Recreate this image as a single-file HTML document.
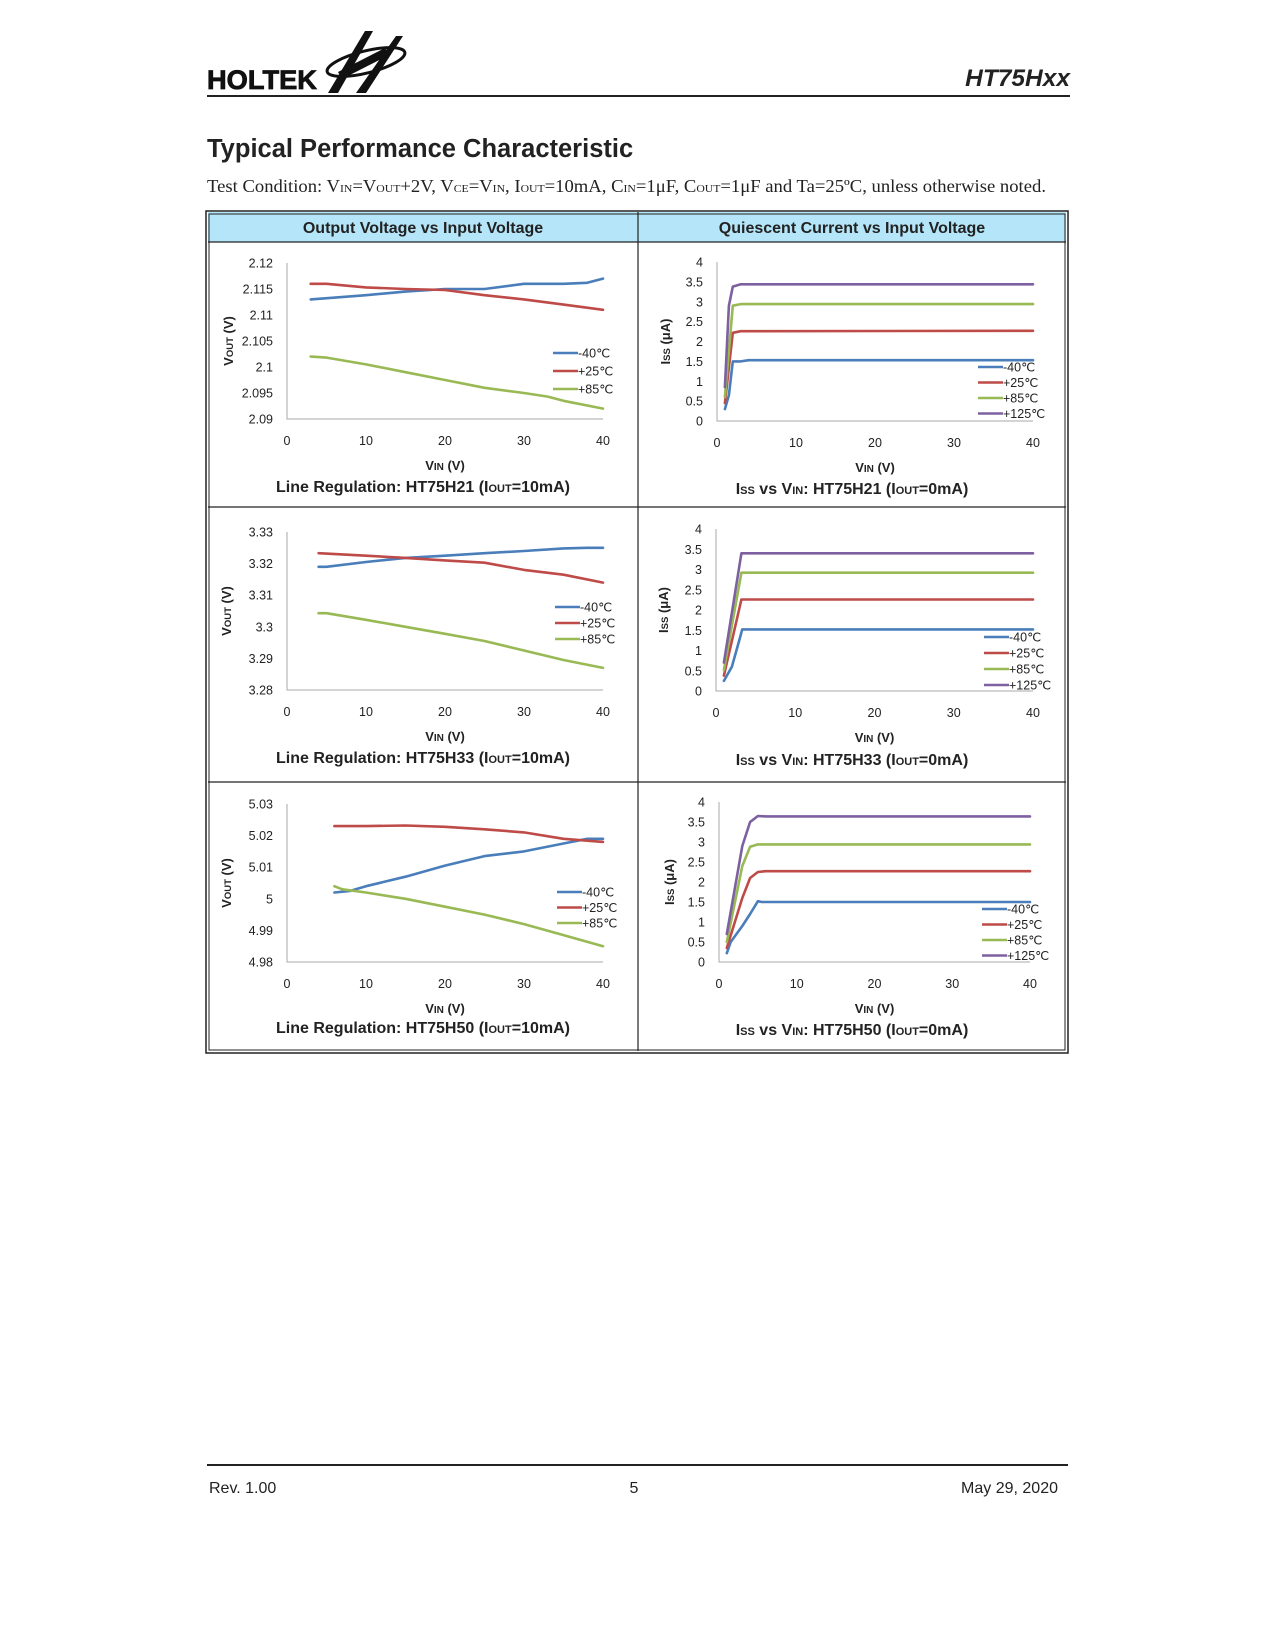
<!DOCTYPE html>
<html><head><meta charset="utf-8">
<style>
html,body{margin:0;padding:0;background:#fff;}
svg{display:block;font-family:"Liberation Sans",Arial,sans-serif;}
</style></head>
<body>
<svg id="page" width="1275" height="1650" viewBox="0 0 1275 1650" xmlns="http://www.w3.org/2000/svg">
  <!-- header -->
  <g>
    <text x="207" y="89" font-size="27" font-weight="bold" fill="#111" font-family="Liberation Sans, sans-serif" textLength="110" lengthAdjust="spacingAndGlyphs" stroke="#111" stroke-width="0.8">HOLTEK</text>
    <ellipse cx="366" cy="62" rx="40" ry="11" fill="none" stroke="#111" stroke-width="3" transform="rotate(-14 366 62)"/>
    <polygon points="328,93 365,31 373,31 338,93" fill="#111"/>
    <polygon points="356,93 396,36 403,36 366,93" fill="#111"/>
    <polygon points="338,72 385,48 389,55 342,79" fill="#111"/>
  </g>
  <text x="1070" y="86" font-size="24.5" font-weight="bold" font-style="italic" fill="#222" text-anchor="end">HT75Hxx</text>
  <line x1="207" y1="96" x2="1070" y2="96" stroke="#222" stroke-width="2"/>

  <text x="207" y="157" font-size="25.5" font-weight="bold" fill="#222">Typical Performance Characteristic</text>
  <text x="207" y="192" font-size="17.5" fill="#222" font-family="Liberation Serif, serif" textLength="839" lengthAdjust="spacingAndGlyphs">Test Condition: V<tspan font-size="11">IN</tspan>=V<tspan font-size="11">OUT</tspan>+2V, V<tspan font-size="11">CE</tspan>=V<tspan font-size="11">IN</tspan>, I<tspan font-size="11">OUT</tspan>=10mA, C<tspan font-size="11">IN</tspan>=1μF, C<tspan font-size="11">OUT</tspan>=1μF and Ta=25ºC, unless otherwise noted.</text>

  <!-- table -->
  <g>
    <rect x="208" y="212" width="858" height="30" fill="#b5e5f8"/>
    <rect x="206" y="211" width="862" height="842" fill="none" stroke="#222" stroke-width="1.5"/>
    <rect x="209" y="214" width="856" height="836" fill="none" stroke="#222" stroke-width="1"/>
    <line x1="208" y1="242" x2="1066" y2="242" stroke="#222" stroke-width="1.2"/>
    <line x1="208" y1="507" x2="1066" y2="507" stroke="#222" stroke-width="1.2"/>
    <line x1="208" y1="782" x2="1066" y2="782" stroke="#222" stroke-width="1.2"/>
    <line x1="638" y1="212" x2="638" y2="1051" stroke="#222" stroke-width="1.2"/>
    <text x="423" y="233" font-size="16" font-weight="bold" fill="#222" text-anchor="middle">Output Voltage vs Input Voltage</text>
    <text x="852" y="233" font-size="16" font-weight="bold" fill="#222" text-anchor="middle">Quiescent Current vs Input Voltage</text>
  </g>
  <g id="charts"></g>

  <!-- footer -->
  <line x1="207" y1="1465" x2="1068" y2="1465" stroke="#222" stroke-width="2"/>
  <text x="209" y="1493" font-size="16" fill="#222">Rev. 1.00</text>
  <text x="634" y="1493" font-size="16" fill="#222" text-anchor="middle">5</text>
  <text x="1058" y="1493" font-size="16" fill="#222" text-anchor="end">May 29, 2020</text>
</svg>
<script>
// ---------- data ----------
const xTicks = [0, 10, 20, 30, 40];
const vTempLabels = ["-40℃", "+25℃", "+85℃"];
const iTempLabels = ["-40℃", "+25℃", "+85℃", "+125℃"];

// Chart 1: HT75H21 line regulation
const c1Ticks = ["2.12","2.115","2.11","2.105","2.1","2.095","2.09"];
const c1X_m40 = [3,10,15,20,25,30,35,38,40];
const c1Y_m40 = [2.113,2.1138,2.1145,2.115,2.115,2.116,2.116,2.1162,2.117];
const c1X_p25 = [3,5,10,15,20,25,30,35,40];
const c1Y_p25 = [2.116,2.116,2.1153,2.115,2.1148,2.1138,2.113,2.112,2.111];
const c1X_p85 = [3,5,10,15,20,25,30,33,35,40];
const c1Y_p85 = [2.102,2.1018,2.1005,2.099,2.0975,2.096,2.095,2.0943,2.0935,2.092];

// Chart 2: HT75H21 Iss
const iTicks = ["4","3.5","3","2.5","2","1.5","1","0.5","0"];
const c2X_m40 = [1,1.5,2,3,4,40];
const c2Y_m40 = [0.3,0.65,1.5,1.5,1.53,1.53];
const c2X_p25 = [1,2,3,40];
const c2Y_p25 = [0.45,2.22,2.26,2.27];
const c2X_p85 = [1,2,3,40];
const c2Y_p85 = [0.6,2.9,2.94,2.94];
const c2X_p125 = [1,1.5,2,3,40];
const c2Y_p125 = [0.85,2.9,3.38,3.44,3.44];

// Chart 3: HT75H33 line regulation
const c3Ticks = ["3.33","3.32","3.31","3.3","3.29","3.28"];
const c3X_m40 = [4,5,10,15,20,25,30,35,38,40];
const c3Y_m40 = [3.319,3.319,3.3205,3.3218,3.3225,3.3233,3.324,3.3248,3.325,3.325];
const c3X_p25 = [4,10,15,20,25,30,35,40];
const c3Y_p25 = [3.3233,3.3225,3.3218,3.321,3.3203,3.318,3.3165,3.314];
const c3X_p85 = [4,5,10,15,20,25,30,35,40];
const c3Y_p85 = [3.3043,3.3043,3.3022,3.3,3.2978,3.2955,3.2925,3.2895,3.287];

// Chart 4: HT75H33 Iss
const c4X_m40 = [1,2,3,3.3,40];
const c4Y_m40 = [0.25,0.6,1.3,1.52,1.52];
const c4X_p25 = [1,3.2,40];
const c4Y_p25 = [0.38,2.26,2.26];
const c4X_p85 = [1,3.2,40];
const c4Y_p85 = [0.52,2.92,2.92];
const c4X_p125 = [1,3.2,40];
const c4Y_p125 = [0.7,3.4,3.4];

// Chart 5: HT75H50 line regulation
const c5Ticks = ["5.03","5.02","5.01","5","4.99","4.98"];
const c5X_m40 = [6,8,10,15,20,25,30,35,38,40];
const c5Y_m40 = [5.002,5.0025,5.004,5.007,5.0105,5.0135,5.015,5.0175,5.019,5.019];
const c5X_p25 = [6,10,15,20,25,30,35,40];
const c5Y_p25 = [5.023,5.023,5.0232,5.0228,5.022,5.021,5.019,5.018];
const c5X_p85 = [6,7,10,15,20,25,30,35,40];
const c5Y_p85 = [5.004,5.003,5.002,5.0,4.9975,4.995,4.992,4.9885,4.985];

// Chart 6: HT75H50 Iss
const c6X_m40 = [1,1.5,3,4,5,5.5,40];
const c6Y_m40 = [0.22,0.5,0.9,1.2,1.52,1.5,1.5];
const c6X_p25 = [1,3,4,5,6,40];
const c6Y_p25 = [0.35,1.6,2.1,2.25,2.27,2.27];
const c6X_p85 = [1,3,4,5,40];
const c6Y_p85 = [0.5,2.4,2.88,2.94,2.94];
const c6X_p125 = [1,3,4,5,6,40];
const c6Y_p125 = [0.7,2.9,3.5,3.65,3.64,3.64];

const COLORS = ["#4a7ebb","#be4b48","#98b954","#7d60a0"];
const NS = "http://www.w3.org/2000/svg";
const root = document.getElementById("charts");

function mk(tag, attrs, parent){
  const e = document.createElementNS(NS, tag);
  for (const k in attrs) e.setAttribute(k, attrs[k]);
  (parent||root).appendChild(e);
  return e;
}

function drawChart(cfg, series, ticks, legendLabels, names){
  const g = mk("g", {});
  
  
  const yMin = parseFloat(ticks[ticks.length-1]), yMax = parseFloat(ticks[0]);
  const xs = v => cfg.x0 + (v - 0) / 40 * (cfg.x1 - cfg.x0);
  const ys = v => cfg.yb - (v - yMin) / (yMax - yMin) * (cfg.yb - cfg.yt);
  const ax = mk("polyline", {points:`${cfg.x0},${cfg.yt} ${cfg.x0},${cfg.yb} ${cfg.x1},${cfg.yb}`, fill:"none", stroke:"#aaa", "stroke-width":1}, g);
  
  
  ticks.forEach(t => {
    const tx = mk("text", {x:cfg.x0-14, y:ys(parseFloat(t))+4.5, "font-size":12.5, "text-anchor":"end", fill:"#222"}, g);
    tx.textContent = t;
    
    
  });
  xTicks.forEach(t => {
    const tx = mk("text", {x:xs(t), y:cfg.yb+26, "font-size":12.5, "text-anchor":"middle", fill:"#222"}, g);
    tx.textContent = t;
    
    
  });
  series.forEach((s, i) => {
    const pts = s[0].map((x, j) => xs(x).toFixed(1) + "," + ys(s[1][j]).toFixed(1)).join(" ");
    const pl = mk("polyline", {points:pts, fill:"none", stroke:COLORS[i], "stroke-width":2.6, "stroke-linejoin":"round", "stroke-linecap":"round"}, g);
    
    
  });
  legendLabels.forEach((lab, i) => {
    const y = cfg.ly + i * cfg.lstep;
    const ln = mk("line", {x1:cfg.lx, y1:y, x2:cfg.lx+25, y2:y, stroke:COLORS[i], "stroke-width":2.6}, g);
    
    
    const tx = mk("text", {x:cfg.lx+25, y:y+4.5, "font-size":12.5, fill:"#222"}, g);
    tx.textContent = lab;
    
    
  });
  const yt = mk("text", {x:0, y:0, "font-size":13, "font-weight":"bold", fill:"#222", "text-anchor":"middle", transform:`translate(${cfg.ytx},${(cfg.yt+cfg.yb)/2}) rotate(-90)`}, g);
  
  
  if (cfg.kind === "v") {
    yt.innerHTML = 'V<tspan font-size="9.5">OUT</tspan> (V)';
  } else {
    yt.innerHTML = 'I<tspan font-size="9.5">SS</tspan> (μA)';
  }
  const xt = mk("text", {x:(cfg.x0+cfg.x1)/2, y:cfg.yb+51, "font-size":13, "font-weight":"bold", fill:"#222", "text-anchor":"middle"}, g);
  xt.innerHTML = 'V<tspan font-size="10">IN</tspan> (V)';
  
  
  const cp = mk("text", {x:cfg.cx, y:cfg.cy, "font-size":16, "font-weight":"bold", fill:"#222", "text-anchor":"middle"}, g);
  cp.innerHTML = cfg.caption;
  
  
}

const vNames = ["line-minus40c","line-plus25c","line-plus85c"];
const iNames = ["line-minus40c","line-plus25c","line-plus85c","line-plus125c"];

drawChart({name:"chart-ht75h21-line-regulation", kind:"v", x0:287, x1:603, yt:263, yb:419, lx:553, ly:353, lstep:18, ytx:233, cx:423, cy:492,
  caption:'Line Regulation: HT75H21 (I<tspan font-size="11">OUT</tspan>=10mA)'},
  [[c1X_m40,c1Y_m40],[c1X_p25,c1Y_p25],[c1X_p85,c1Y_p85]], c1Ticks, vTempLabels, vNames);

drawChart({name:"chart-ht75h21-iss", kind:"i", x0:717, x1:1033, yt:262, yb:421, lx:978, ly:367, lstep:15.5, ytx:670, cx:852, cy:494,
  caption:'I<tspan font-size="11">SS</tspan> vs V<tspan font-size="11">IN</tspan>: HT75H21 (I<tspan font-size="11">OUT</tspan>=0mA)'},
  [[c2X_m40,c2Y_m40],[c2X_p25,c2Y_p25],[c2X_p85,c2Y_p85],[c2X_p125,c2Y_p125]], iTicks, iTempLabels, iNames);

drawChart({name:"chart-ht75h33-line-regulation", kind:"v", x0:287, x1:603, yt:532, yb:690, lx:555, ly:607, lstep:16, ytx:231, cx:423, cy:763,
  caption:'Line Regulation: HT75H33 (I<tspan font-size="11">OUT</tspan>=10mA)'},
  [[c3X_m40,c3Y_m40],[c3X_p25,c3Y_p25],[c3X_p85,c3Y_p85]], c3Ticks, vTempLabels, vNames);

drawChart({name:"chart-ht75h33-iss", kind:"i", x0:716, x1:1033, yt:529, yb:691, lx:984, ly:637, lstep:16, ytx:668, cx:852, cy:765,
  caption:'I<tspan font-size="11">SS</tspan> vs V<tspan font-size="11">IN</tspan>: HT75H33 (I<tspan font-size="11">OUT</tspan>=0mA)'},
  [[c4X_m40,c4Y_m40],[c4X_p25,c4Y_p25],[c4X_p85,c4Y_p85],[c4X_p125,c4Y_p125]], iTicks, iTempLabels, iNames);

drawChart({name:"chart-ht75h50-line-regulation", kind:"v", x0:287, x1:603, yt:804, yb:962, lx:557, ly:892, lstep:15.5, ytx:231, cx:423, cy:1033,
  caption:'Line Regulation: HT75H50 (I<tspan font-size="11">OUT</tspan>=10mA)'},
  [[c5X_m40,c5Y_m40],[c5X_p25,c5Y_p25],[c5X_p85,c5Y_p85]], c5Ticks, vTempLabels, vNames);

drawChart({name:"chart-ht75h50-iss", kind:"i", x0:719, x1:1030, yt:802, yb:962, lx:982, ly:909, lstep:15.5, ytx:674, cx:852, cy:1035,
  caption:'I<tspan font-size="11">SS</tspan> vs V<tspan font-size="11">IN</tspan>: HT75H50 (I<tspan font-size="11">OUT</tspan>=0mA)'},
  [[c6X_m40,c6Y_m40],[c6X_p25,c6Y_p25],[c6X_p85,c6Y_p85],[c6X_p125,c6Y_p125]], iTicks, iTempLabels, iNames);
</script>
</body></html>
